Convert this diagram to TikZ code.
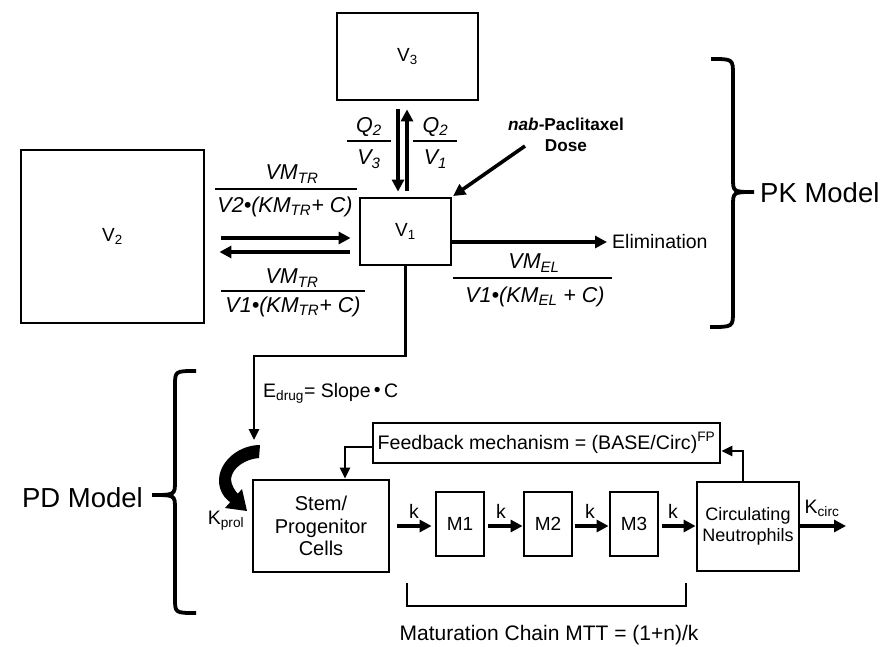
\documentclass[tikz,border=0pt]{standalone}
\usepackage{fontspec}
\setmainfont{Liberation Sans}
\usetikzlibrary{arrows.meta,calc}
\begin{document}
\begin{tikzpicture}[x=1pt,y=-1pt,
  box/.style={draw,line width=2.8pt,inner sep=0pt,align=center,font=\fontsize{19}{21.5}\selectfont},
  arr/.style={line width=4.2pt,-{Triangle[length=12pt,width=12pt]}},
  elb/.style={line width=2.6pt,-{Triangle[length=11pt,width=10pt]}},
  fr/.style={line width=1.4pt},
  lbl/.style={inner sep=0pt,font=\fontsize{19.5}{22}\selectfont},
  frl/.style={inner sep=0pt,font=\fontsize{21.5}{24}\selectfont\itshape},
  big/.style={inner sep=0pt,font=\fontsize{27.5}{30}\selectfont},
  brace/.style={line width=3.8pt,line cap=butt}]
\useasboundingbox (0,0) rectangle (880,647);
% PK boxes
\node[box,minimum width=141pt,minimum height=87pt] (V3) at (407.5,56.5) {V\textsubscript{3}};
\node[box,minimum width=183pt,minimum height=173pt] (V2) at (112.5,236.5) {V\textsubscript{2}};
\node[box,minimum width=91pt,minimum height=67pt] (V1) at (405.5,231.5) {V\textsubscript{1}};
% V3 <-> V1
\coordinate (dnx) at (398,0);
\coordinate (upx) at (407,0);
\draw[arr,shorten <=8pt,shorten >=5pt] (V3.south -| dnx) -- (V1.north -| dnx);
\draw[arr,shorten <=6pt,shorten >=8pt] (V1.north -| upx) -- (V3.south -| upx);
\node[frl] (q2a) at (369,127) {Q\textsubscript{2}};
\draw[fr] (347,141) -- (391,141);
\node[frl] (v3a) at (369,159) {V\textsubscript{3}};
\node[frl] (q2b) at (435.5,127) {Q\textsubscript{2}};
\draw[fr] (413,141) -- (457,141);
\node[frl] (v1b) at (435.5,159) {V\textsubscript{1}};
% V2 <-> V1
\coordinate (ra) at (0,238);
\coordinate (la) at (0,252);
\draw[arr,shorten <=16pt,shorten >=8pt] (V2.east |- ra) -- (V1.west |- ra);
\draw[arr,shorten <=9pt,shorten >=14pt] (V1.west |- la) -- (V2.east |- la);
\node[frl] (n1) at (292,174) {VM\textsubscript{TR}};
\draw[fr] (215,189) -- (357,189);
\node[frl] (d1) at (285,207) {V2•(KM\textsubscript{TR}+ C)};
\node[frl] (n2) at (292,278) {VM\textsubscript{TR}};
\draw[fr] (221,291) -- (365,291);
\node[frl] (d2) at (293,307) {V1•(KM\textsubscript{TR}+ C)};
% Dose
\node[inner sep=0pt,align=center,font=\fontsize{17.2}{21}\selectfont\bfseries] (dose) at (566,135) {\textit{nab}-Paclitaxel\\Dose};
\coordinate (dosestart) at (525,146);
\draw[arr,line width=3.6pt,shorten >=1pt] (dosestart) -- (V1.north east);
% Elimination
\node[lbl,anchor=west] (elim) at (612,242) {Elimination};
\draw[arr,shorten >=5pt] (V1.east |- elim) -- (elim.west);
\node[frl] (n3) at (534,263) {VM\textsubscript{EL}};
\draw[fr] (453,278) -- (612,278);
\node[frl] (d3) at (535,297) {V1•(KM\textsubscript{EL} + C)};
% PK brace
\draw[brace] (711,59) .. controls (733,59) .. (733,75) -- (733,178) .. controls (733,192) .. (754,192) .. controls (733,192) .. (733,206) -- (733,311) .. controls (733,327) .. (710,327);
\node[big,anchor=west] (pk) at (760,193) {PK Model};
% PD brace
\draw[brace] (196,371) .. controls (175,371) .. (175,386) -- (175,481) .. controls (175,495) .. (152,495) .. controls (175,495) .. (175,509) -- (175,598) .. controls (175,613) .. (196,613);
\node[big,anchor=east] (pd) at (143,498) {PD Model};
% PD boxes
\node[box,minimum width=136pt,minimum height=92pt,font=\fontsize{20}{22.5}\selectfont] (stem) at (321,526) {Stem/\\Progenitor\\Cells};
\node[box,minimum width=48pt,minimum height=64pt] (m1) at (460,524) {M1};
\node[box,minimum width=48pt,minimum height=64pt] (m2) at (548,524) {M2};
\node[box,minimum width=48pt,minimum height=64pt] (m3) at (634,524) {M3};
\node[box,minimum width=102pt,minimum height=89pt,font=\fontsize{18}{21}\selectfont] (circ) at (748,526.5) {Circulating\\Neutrophils};
\node[box,minimum width=347pt,minimum height=40pt,font=\fontsize{19.6}{22}\selectfont] (fb) at (546.5,443) {Feedback mechanism = (BASE/Circ)\textsuperscript{FP}};
% chain
\coordinate (ch) at (0,526);
\draw[arr,shorten <=7pt,shorten >=3pt] (stem.east |- ch) -- (m1.west |- ch);
\draw[arr,shorten <=3pt] (m1.east |- ch) -- (m2.west |- ch);
\draw[arr,shorten <=2pt] (m2.east |- ch) -- (m3.west |- ch);
\draw[arr,shorten <=3pt] (m3.east |- ch) -- (circ.west |- ch);
\coordinate (kcend) at (846,526);
\draw[arr] (circ.east |- ch) -- (kcend);
\node[lbl] (k1) at (414,511) {k};
\node[lbl] (k2) at (501,511) {k};
\node[lbl] (k3) at (590,511) {k};
\node[lbl] (k4) at (673,511) {k};
\node[lbl] (kc) at (822,508) {K\textsubscript{circ}};
% feedback arrows
\coordinate (fbup) at (743,451);
\draw[elb] (circ.north -| fbup) |- (fb.east |- fbup);
\coordinate (fbl) at (345,447);
\draw[elb] (fb.west |- fbl) -| (stem.north -| fbl);
% drug effect
\coordinate (ecorner) at (254,356);
\coordinate (eend) at (254,440);
\draw[elb] (V1.south) |- (ecorner) -- (eend);
\node[lbl,anchor=west] (edrug) at (263,393) {E\textsubscript{drug}= Slope\,\raisebox{0.1ex}{\textbullet}\,C};
% Kprol curved tapered arrow
\fill (260,445) .. controls (236,445) and (214,466) .. (220,488) .. controls (222,495) and (226,499) .. (231,503)
  -- (239,495) .. controls (235,491) and (231,485) .. (231,479) .. controls (232,468) and (245,459) .. (259,458) -- cycle;
\fill (225,508) -- (247,511) -- (242,489) -- cycle;
\node[lbl] (kp) at (226,521) {K\textsubscript{prol}};
% maturation bracket
\draw[line width=2.6pt] (407,583) -- (407,606) -- (686,606) -- (686,583);
\node[inner sep=0pt,font=\fontsize{21}{24}\selectfont] (mat) at (549,635) {Maturation Chain MTT = (1+n)/k};
\end{tikzpicture}
\end{document}
